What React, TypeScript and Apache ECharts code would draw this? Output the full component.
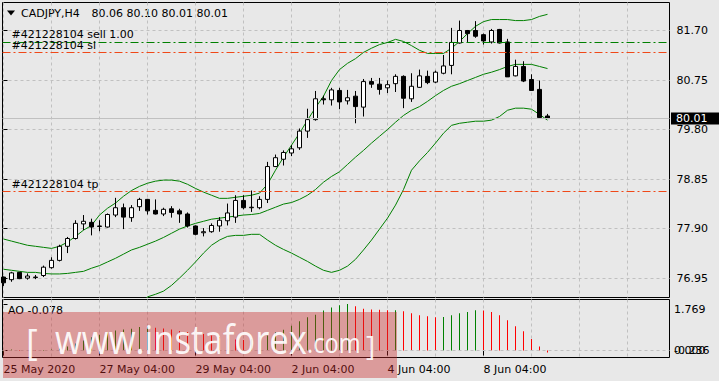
import { useEffect, useRef } from 'react';
import * as echarts from 'echarts';

// ---- data (H4 bars, index 0 = first visible bar) ----
const opens = [76.97, 76.92, 77.06, 76.95, 76.96, 77.00, 77.15, 77.29, 77.56, 77.71,
  77.99, 78.02, 77.94, 77.93, 78.16, 78.30, 78.11, 78.32, 78.46, 78.25,
  78.18, 78.28, 78.24, 78.18, 77.95, 77.82, 77.84, 77.95, 78.05, 78.12,
  78.44, 78.30, 78.30, 78.46, 79.09, 79.23, 79.35, 79.45, 79.77, 79.99,
  80.39, 80.37, 80.55, 80.35, 80.44, 80.23, 80.72, 80.67, 80.60, 80.68,
  80.82, 80.39, 80.61, 80.82, 80.71, 80.88, 81.03, 81.46, 81.70, 81.70,
  81.62, 81.48, 81.72, 81.48, 80.83, 81.01, 80.76, 80.57, 80.06];
const highs = [76.98, 77.07, 77.07, 77.04, 77.01, 77.19, 77.35, 77.59, 77.74, 78.06,
  78.16, 78.09, 78.06, 78.19, 78.49, 78.38, 78.35, 78.49, 78.47, 78.46,
  78.30, 78.33, 78.28, 78.21, 77.96, 77.91, 78.00, 78.12, 78.38, 78.54,
  78.54, 78.63, 78.52, 79.18, 79.32, 79.40, 79.50, 79.82, 80.20, 80.54,
  80.45, 80.60, 80.60, 80.56, 80.54, 80.77, 80.79, 80.79, 80.74, 80.86,
  80.84, 80.88, 80.95, 80.93, 80.93, 81.23, 81.75, 81.89, 81.71, 81.88,
  81.64, 81.73, 81.73, 81.54, 81.14, 81.11, 80.86, 80.74, 80.10];
const lows = [76.80, 76.88, 76.93, 76.92, 76.93, 76.97, 77.13, 77.27, 77.43, 77.69,
  77.87, 77.77, 77.85, 77.92, 78.12, 77.89, 78.03, 78.24, 78.17, 78.17,
  78.14, 78.11, 78.01, 77.92, 77.77, 77.75, 77.82, 77.84, 77.96, 78.01,
  78.27, 78.22, 78.27, 78.39, 79.08, 79.11, 79.29, 79.41, 79.64, 79.97,
  80.28, 80.26, 80.19, 80.28, 79.92, 80.05, 80.60, 80.47, 80.50, 80.52,
  80.21, 80.33, 80.60, 80.67, 80.69, 80.86, 80.86, 81.45, 81.48, 81.56,
  81.43, 81.45, 81.45, 80.81, 80.82, 80.71, 80.54, 80.01, 80.01];
const closes = [76.86, 77.05, 76.94, 76.99, 76.97, 77.16, 77.29, 77.56, 77.71, 78.00,
  78.04, 77.93, 77.95, 78.17, 78.30, 78.12, 78.30, 78.46, 78.24, 78.18,
  78.27, 78.21, 78.18, 77.95, 77.79, 77.84, 77.96, 78.06, 78.20, 78.44,
  78.30, 78.31, 78.46, 79.09, 79.26, 79.36, 79.43, 79.77, 79.99, 80.39,
  80.37, 80.56, 80.33, 80.41, 80.24, 80.72, 80.67, 80.57, 80.66, 80.82,
  80.40, 80.63, 80.83, 80.70, 80.90, 81.02, 81.47, 81.70, 81.64, 81.59,
  81.50, 81.70, 81.46, 80.81, 81.01, 80.73, 80.55, 80.03, 80.01];

const bbUpper = [77.70, 77.66, 77.62, 77.58, 77.56, 77.54, 77.52, 77.56, 77.64, 77.75,
  77.87, 77.96, 78.16, 78.29, 78.39, 78.52, 78.63, 78.71, 78.77, 78.81,
  78.83, 78.83, 78.81, 78.75, 78.67, 78.60, 78.54, 78.48, 78.48, 78.50,
  78.52, 78.54, 78.58, 78.75, 79.02, 79.27, 79.50, 79.73, 79.98, 80.22,
  80.44, 80.74, 80.95, 81.07, 81.16, 81.28, 81.36, 81.43, 81.47, 81.53,
  81.49, 81.41, 81.32, 81.26, 81.26, 81.26, 81.36, 81.49, 81.64, 81.78,
  81.87, 81.91, 81.91, 81.91, 81.89, 81.89, 81.91, 81.97, 82.01];
const bbMiddle = [77.12, 77.10, 77.08, 77.06, 77.06, 77.04, 77.03, 77.03, 77.04, 77.06,
  77.08, 77.14, 77.19, 77.26, 77.33, 77.41, 77.49, 77.54, 77.60, 77.66,
  77.73, 77.81, 77.89, 77.95, 78.00, 78.04, 78.08, 78.10, 78.12, 78.14,
  78.16, 78.17, 78.19, 78.25, 78.31, 78.37, 78.40, 78.46, 78.54, 78.65,
  78.79, 78.90, 78.99, 79.13, 79.27, 79.40, 79.54, 79.67, 79.80, 79.94,
  80.07, 80.17, 80.24, 80.34, 80.45, 80.55, 80.63, 80.68, 80.74, 80.80,
  80.86, 80.90, 80.95, 81.01, 81.05, 81.05, 81.05, 81.01, 80.97];
const bbLower = [null, null, null, null, null, null, null, null, null, null,
  null, null, null, null, null, null, null, 76.43, 76.59, 76.64,
  76.70, 76.81, 76.95, 77.10, 77.26, 77.43, 77.58, 77.68, 77.75, 77.77,
  77.77, 77.79, 77.79, 77.68, 77.58, 77.50, 77.43, 77.35, 77.27, 77.18,
  77.10, 77.06, 77.10, 77.18, 77.31, 77.49, 77.68, 77.89, 78.10, 78.35,
  78.65, 79.02, 79.20, 79.36, 79.54, 79.73, 79.88, 79.92, 79.94, 79.96,
  79.96, 79.98, 80.05, 80.17, 80.21, 80.21, 80.19, 80.09, 79.98];

const aoValues = [-0.04, 0.04, 0.02, 0.02, -0.02, 0.02, 0.04, 0.08, 0.15, 0.27,
  0.38, 0.50, 0.60, 0.70, 0.76, 0.80, 0.83, 0.89, 0.90, 0.87,
  0.84, 0.80, 0.74, 0.70, 0.66, 0.63, 0.57, 0.51, 0.46, 0.42,
  0.40, 0.44, 0.50, 0.57, 0.69, 0.79, 0.94, 1.11, 1.26, 1.36,
  1.52, 1.64, 1.72, 1.769, 1.68, 1.59, 1.56, 1.55, 1.53, 1.535,
  1.49, 1.42, 1.34, 1.30, 1.26, 1.27, 1.34, 1.42, 1.46, 1.53,
  1.52, 1.46, 1.34, 1.15, 0.92, 0.73, 0.44, 0.15, -0.078];

const priceTicks = [76.95, 77.90, 78.85, 79.80, 80.75, 81.70];
const aoTicks = [0, 1.769];
const aoMinTicks = [-0.236];
const timeIdx = [0, 12, 24, 36, 48, 60];
const timeLabels = ['25 May 2020', '27 May 04:00', '29 May 04:00', '2 Jun 04:00', '4 Jun 04:00', '8 Jun 04:00'];
const gridBars = [0, 6, 12, 18, 24, 30, 36, 42, 48, 54, 60, 66, 72, 78];

const orderPrices = [81.48, 81.28, 78.62];
const orderLabels = ['#421228104 sell 1.00', '#421228104 sl', '#421228104 tp'];
const orderColors = ['#008000', '#f04818', '#f04818'];

const FONT = 'DejaVu Sans';
const GRIDC = '#c0c0c0';
const X_MIN = -0.125;
const X_MAX = 83.25;
const AO_MIN = -0.2663;
const AO_MAX = 1.9399;

function buildOption() {
  const n = closes.length;
  const last = n - 1;
  const candleData = opens.map((o, i) => [i, o, closes[i], lows[i], highs[i]]);
  const toLine = (arr: (number | null)[]) =>
    arr.map((v, i) => [i, v]).filter((p) => p[1] !== null);
  const aoData = aoValues.map((v, i) => ({
    value: [i, v],
    itemStyle: { color: i === 0 || v > aoValues[i - 1] ? '#008000' : '#ff0000' },
  }));
  const bbLine = (name: string, arr: (number | null)[]) => ({
    type: 'line',
    name,
    xAxisIndex: 0,
    yAxisIndex: 0,
    data: toLine(arr),
    symbol: 'none',
    showSymbol: false,
    silent: true,
    lineStyle: { color: '#008000', width: 1 },
    z: 2,
  });
  const xSplit = (gridIndex: number, position: string) => ({
    gridIndex,
    type: 'value',
    position,
    min: X_MIN,
    max: X_MAX,
    axisLine: { show: false },
    axisTick: { show: false, customValues: gridBars },
    axisLabel: { show: false },
    splitLine: { show: true, lineStyle: { color: GRIDC, type: [3, 3], width: 1 } },
  });
  const txt = { fontSize: 11, fontFamily: FONT, color: '#000' };
  const aoFmt = (v: number) => {
    const s = v.toFixed(3);
    if (v > 1) return `{t|${s}}`;
    if (v < 0) return `{b|${s}}`;
    return `{m|${s}}`;
  };
  const aoRich = {
    t: { ...txt, padding: [11, 0, 0, 0] },
    b: { ...txt, padding: [0, 0, 12, 0] },
    m: { ...txt },
  };

  return {
    animation: false,
    backgroundColor: '#e8e8e8',
    textStyle: { fontFamily: FONT },
    grid: [
      { left: 2.5, top: 2.5, width: 667, height: 295, show: true, borderColor: '#000', borderWidth: 1, backgroundColor: 'transparent' },
      { left: 2.5, top: 299.5, width: 667, height: 58, show: true, borderColor: '#000', borderWidth: 1, backgroundColor: 'transparent' },
    ],
    xAxis: [
      xSplit(0, 'bottom'),
      xSplit(1, 'top'),
      {
        gridIndex: 1,
        type: 'value',
        position: 'bottom',
        min: X_MIN,
        max: X_MAX,
        axisLine: { show: false },
        axisTick: { show: true, customValues: timeIdx, length: 5, lineStyle: { color: '#000' } },
        axisLabel: {
          show: true,
          customValues: timeIdx,
          formatter: (v: number) => timeLabels[timeIdx.indexOf(Math.round(v))] ?? '',
          align: 'left',
          margin: 6,
          hideOverlap: false,
          ...txt,
        },
        splitLine: { show: false },
      },
    ],
    yAxis: [
      {
        gridIndex: 0,
        type: 'value',
        position: 'right',
        min: 76.578,
        max: 82.237,
        axisLine: { show: false },
        axisTick: { show: true, customValues: priceTicks, length: 4, lineStyle: { color: '#000' } },
        axisLabel: { show: true, customValues: priceTicks, formatter: (v: number) => v.toFixed(2), margin: 7, hideOverlap: false, ...txt },
        splitLine: { show: true, lineStyle: { color: GRIDC, type: [3, 3], width: 1 } },
      },
      {
        gridIndex: 1,
        type: 'value',
        position: 'right',
        min: AO_MIN,
        max: AO_MAX,
        axisLine: { show: false },
        axisTick: { show: true, customValues: aoTicks, length: 4, lineStyle: { color: '#000' } },
        axisLabel: { show: true, customValues: aoTicks, margin: 4.5, formatter: aoFmt, rich: aoRich, hideOverlap: false, ...txt },
        splitLine: { show: false },
      },
      {
        gridIndex: 1,
        type: 'value',
        position: 'right',
        offset: 0,
        min: AO_MIN,
        max: AO_MAX,
        axisLine: { show: false },
        axisTick: { show: false, customValues: aoMinTicks },
        axisLabel: { show: true, customValues: aoMinTicks, margin: 4.5, formatter: aoFmt, rich: aoRich, hideOverlap: false, ...txt },
        splitLine: { show: false },
      },
    ],
    series: [
      bbLine('BB upper', bbUpper),
      bbLine('BB middle', bbMiddle),
      bbLine('BB lower', bbLower),
      {
        type: 'candlestick',
        name: 'CADJPY,H4',
        xAxisIndex: 0,
        yAxisIndex: 0,
        data: candleData,
        encode: { x: 0, y: [1, 2, 3, 4] },
        barWidth: 4,
        silent: true,
        z: 3,
        itemStyle: { color: '#ffffff', color0: '#000000', borderColor: '#000000', borderColor0: '#000000', borderWidth: 1 },
        markLine: {
          silent: true,
          symbol: ['none', 'none'],
          animation: false,
          data: [
            ...orderPrices.map((p, i) => ({
              yAxis: p,
              lineStyle: { color: orderColors[i], type: [8, 3, 2, 3], width: 1 },
              label: { show: true, position: 'insideStartTop', distance: [9, 1.5], formatter: orderLabels[i], ...txt },
            })),
            {
              yAxis: closes[last],
              lineStyle: { color: GRIDC, type: 'solid', width: 1 },
              label: {
                show: true,
                position: 'end',
                distance: 1.5,
                formatter: closes[last].toFixed(2),
                backgroundColor: '#000',
                padding: [1, 12, 0, 5],
                fontSize: 11,
                fontFamily: FONT,
                color: '#fff',
              },
            },
          ],
        },
      },
      {
        type: 'bar',
        name: 'AO',
        xAxisIndex: 2,
        yAxisIndex: 1,
        barWidth: 1,
        silent: true,
        data: aoData,
        markLine: {
          silent: true,
          symbol: ['none', 'none'],
          animation: false,
          label: { show: false },
          data: [{ yAxis: 0, lineStyle: { color: GRIDC, type: [3, 3], width: 1 } }],
        },
      },
    ],
    graphic: [
      { type: 'polygon', shape: { points: [[7, 10.5], [15, 10.5], [11, 15.5]] }, style: { fill: '#000' } },
      { type: 'text', x: 21, y: 13.5, style: { text: 'CADJPY,H4', fontSize: 11, fontFamily: FONT, fill: '#000', verticalAlign: 'middle' } },
      {
        type: 'text', x: 91.5, y: 13.5,
        style: {
          text: [opens[last], highs[last], lows[last], closes[last]].map((v) => v.toFixed(2)).join(' '),
          fontSize: 11, fontFamily: FONT, fill: '#000', verticalAlign: 'middle',
        },
      },
      { type: 'text', x: 8, y: 310, style: { text: `AO ${aoValues[last].toFixed(3)}`, fontSize: 11, fontFamily: FONT, fill: '#000', verticalAlign: 'middle' } },
      { type: 'rect', z: 100, shape: { x: 3, y: 312, width: 394, height: 66 }, style: { fill: 'rgba(200,40,40,0.4)' } },
      { type: 'text', z: 101, x: 26, y: 341, style: { text: '[', fontSize: 36, fontFamily: 'Open Sans', fill: 'rgba(255,255,255,0.92)', verticalAlign: 'middle' } },
      { type: 'text', z: 101, x: 55, y: 337.6, scaleX: 0.845, style: { text: 'www.instaforex', fontSize: 41, fontFamily: 'Open Sans', fill: 'rgba(255,255,255,0.92)', verticalAlign: 'middle' } },
      { type: 'text', z: 101, x: 307, y: 342, scaleX: 0.845, style: { text: '.com', fontSize: 28, fontFamily: 'Open Sans', fill: 'rgba(255,255,255,0.92)', verticalAlign: 'middle' } },
      { type: 'text', z: 101, x: 366, y: 344.5, style: { text: ']', fontSize: 28, fontFamily: 'Open Sans', fill: 'rgba(255,255,255,0.92)', verticalAlign: 'middle' } },
    ],
  };
}

export default function App() {
  const ref = useRef<HTMLDivElement>(null);
  useEffect(() => {
    if (!ref.current) return;
    const chart = echarts.init(ref.current, null, { renderer: 'svg' });
    chart.setOption(buildOption() as any);
    return () => chart.dispose();
  }, []);
  return (
    <div
      ref={ref}
      style={{ position: 'fixed', left: 0, top: 0, width: 719, height: 381, background: '#e8e8e8' }}
    />
  );
}
